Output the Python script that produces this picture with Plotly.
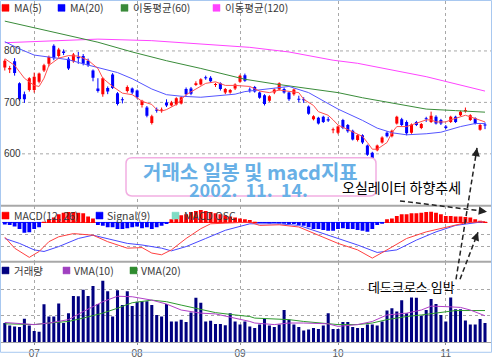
import plotly.graph_objects as go

# ---------------- data ----------------
days = list(range(99))
opens = [768,764,780,737,716,724,724,740,762,775,
         810,790,799,785,780,788,790,781,762,727,
         716,728,754,718,706,722,727,723,695,690,
         660,686,684,700,694,696,698,726,727,734,
         735,749,748,734,737,719,719,727,740,753,
         725,730,719,714,703,719,725,726,719,716,
         707,706,692,667,670,672,667,646,641,666,
         656,645,627,636,616,602,607,622,641,634,
         659,667,662,641,662,650,669,662,672,666,
         653,662,672,675,683,666,669,647,657]
highs = [784,771,786,739,721,749,758,758,775,791,
         813,806,803,788,796,798,794,785,764,747,
         749,731,757,720,710,733,729,725,705,693,
         676,690,690,706,703,710,712,729,730,741,
         747,752,751,738,739,728,726,737,754,756,
         729,732,721,716,714,727,739,729,721,727,
         713,710,694,675,672,674,672,651,655,668,
         658,647,638,638,618,604,618,634,644,647,
         674,670,665,659,664,660,672,682,675,668,
         656,674,674,684,690,677,671,658,661]
lows = [762,757,752,703,699,721,719,737,759,770,
        782,787,792,763,777,775,772,769,741,719,
        711,716,726,694,698,719,716,707,690,671,
        657,680,680,691,692,694,696,713,714,732,
        733,744,739,730,723,716,717,724,738,740,
        719,719,707,694,701,716,723,717,703,713,
        700,699,676,665,657,660,662,640,638,648,
        641,626,624,619,596,585,605,620,632,632,
        657,654,636,639,654,648,662,660,657,656,
        648,660,660,673,680,664,657,645,648]
closes = [781,767,757,706,706,747,750,756,772,788,
          786,803,796,766,793,786,775,772,748,722,
          747,721,728,697,704,730,719,710,703,674,
          673,684,686,694,700,708,710,716,717,737,
          745,747,741,736,726,726,724,735,752,742,
          723,721,709,697,712,725,737,719,706,725,
          705,704,678,673,659,662,665,648,653,650,
          644,628,636,622,598,588,616,632,634,645,
          672,656,640,657,656,658,667,674,659,659,
          650,672,662,682,685,675,659,656,655]

ma5_idx = [0,2,4,6,7,8,9,11,13,15,17,19,20,22,24,26,27,28,30,31,32,33,35,37,39,41,43,45,47,
           50,52,54,56,58,60,61,63,64,66,67,68,70,72,73,74,75,76,78,79,80,82,83,84,86,87,88,
           90,91,93,94,95,97,98]
ma5_val = [785,772,747,733,731,747,772,786,791,790,782,766,747,731,718,715,709,702,696,686,683,686,
           696,715,726,737,740,733,733,
           731,722,719,724,722,719,706,694,682,675,666,656,647,639,634,622,609,609,622,641,653,653,
           656,659,666,666,662,662,666,672,675,672,666,662]
ma20_idx = [0,3,6,9,13,16,20,23,26,30,33,36,40,43,47,49,55,58,62,65,68,73,76,79,82,86,89,93,96,98]
ma20_val = [818,804,792,788,783,775,766,758,746,726,715,712,710,712,716,721,728,731,719,703,687,
            665,650,641,637,639,642,653,659,659]
ma60_idx = [0,6,13,19,26,33,40,49,55,61,68,73,80,86,92,98]
ma60_val = [858,845,830,817,798,781,766,745,736,728,719,709,697,687,684,681]
ma120_idx = [0,9,19,30,40,50,58,67,72,86,98]
ma120_val = [816,820,823,820,813,807,798,782,776,750,722]

volume = [7.3,6.3,6.0,5.8,8.9,6.3,4.2,3.9,14.5,9.8,
          9.8,14.8,7.3,11.1,17.7,17.6,20.1,17.7,21.5,14.6,
          23.6,19.5,9.8,19.9,14.2,19.5,13.8,15.5,15.7,15.7,
          14.2,10.4,9.8,14.6,7.9,7.9,8.6,7.7,11.3,17.0,
          15.1,7.9,8.2,6.9,6.9,6.4,11.1,7.9,6.7,7.9,
          6.0,5.4,6.7,8.8,6.3,5.8,6.7,12.3,8.6,6.7,
          5.8,4.4,4.8,5.4,5.0,6.3,11.1,5.0,5.0,7.7,
          7.7,5.8,5.4,5.4,6.7,6.7,6.3,7.9,12.1,13.0,
          11.7,16.1,11.1,17.1,17.0,10.1,12.3,16.5,14.6,10.4,
          7.9,17.1,12.6,12.6,8.3,6.7,6.7,8.8,7.3]
vma10_idx = [0,3,6,9,13,16,20,23,26,30,33,36,40,43,47,50,51,55,58,61,66,68,72,75,78,82,85,87,90,93,95,98]
vma10_val = [7.5,7.0,6.7,7.3,8.6,11.7,15.5,17.6,17.4,16.1,14.6,12.3,11.1,10.8,9.2,7.9,7.3,6.7,7.3,
             7.3,7.0,6.0,6.7,7.9,10.4,11.1,12.3,13.8,13.6,13.3,12.3,10.1]
vma20_idx = [0,3,6,9,13,16,20,23,26,30,33,36,40,43,47,50,51,55,58,61,65,68,72,75,78,82,85,88,92,95,98]
vma20_val = [7.0,6.9,6.7,7.3,7.9,9.2,11.1,13.0,15.1,16.1,15.5,14.2,12.6,11.3,10.4,9.8,9.2,8.8,8.6,
             7.9,7.3,6.7,6.7,7.3,8.6,9.8,10.4,11.1,12.1,12.1,12.1]

osc = [-1.6,-2.1,-3.2,-5.3,-8.5,-8.0,-5.3,-4.0,0.5,2.7,
       4.0,6.7,8.0,8.5,8.5,8.0,7.5,4.8,3.2,-2.1,
       -2.7,-4.0,-4.0,-5.3,-5.3,-4.8,-4.0,-3.2,-4.8,-4.0,
       -5.3,-4.0,-2.7,-1.3,2.7,4.8,5.9,6.7,8.5,9.3,
       10.1,9.3,8.5,7.5,6.7,5.9,4.8,4.0,3.2,2.7,
       2.1,0.5,-0.5,-0.5,-0.8,-0.5,-0.8,-1.0,-1.3,-1.3,
       -2.1,-2.7,-4.0,-5.3,-5.3,-6.1,-6.7,-6.7,-5.3,-4.8,
       -5.3,-5.3,-6.1,-6.7,-7.5,-5.3,-2.1,-1.0,2.7,3.2,
       5.3,6.7,6.7,7.5,7.5,8.0,8.5,8.8,8.0,6.7,
       5.3,5.3,4.8,4.8,4.5,4.0,2.7,1.3,0.5]
macd_idx = [0,2,5,7,9,11,14,18,21,25,28,30,32,34,37,40,42,46,50,52,56,60,64,68,72,75,78,82,86,90,94,98]
macd_val = [-12,-21,-28.5,-23.7,-15.7,-11.7,-9.1,-10.4,-15.7,-21,-20.5,-25,-26.4,-22.4,-13.1,-5.1,
            -1.1,-0.3,0.3,-2.4,-1.9,-3.7,-10.4,-17.1,-22.4,-29.1,-22.4,-13.1,-7.7,-3.7,-0.3,0.8]
signal_idx = [0,3,6,8,11,15,18,21,25,28,32,34,37,41,45,50,52,56,60,64,68,72,76,80,84,88,92,98]
signal_val = [-13.1,-17.1,-22.4,-23.7,-19.7,-13.1,-10.4,-13.1,-17.1,-18.4,-21,-23.2,-19.7,-13.1,-6.4,
              -1.1,-1.1,-1.1,-2.4,-7.7,-13.1,-18.4,-24.5,-22.4,-14.4,-7.7,-2.4,0.8]

month_ticks = [6, 27, 48, 68, 90]
month_labels = ["07", "08", "09", "10", "11"]
price_ticks = [600, 700, 800]
macd_grid = [-10, -20]
vol_grid = [10, 20]

# ---------------- geometry helpers (pixels -> paper) ----------------
W, H = 493, 360
L, R, T, B = 1, 2, 1, 11
PW, PH = W - L - R, H - T - B
def px(x):
    return (x - L) / PW
def py(y):
    return (H - B - y) / PH

RED, BLUE = "#ff0000", "#0000ff"
KFONT = "Noto Sans CJK KR"
GRID = "#a8a8a8"

fig = go.Figure()

# ---------------- price panel ----------------
ccol = [RED if c >= o else BLUE for o, c in zip(opens, closes)]
for col in (RED, BLUE):
    wx, wy = [], []
    for d, h, l, c in zip(days, highs, lows, ccol):
        if c == col:
            wx += [d, d, None]
            wy += [l, h, None]
    fig.add_trace(go.Scatter(x=wx, y=wy, mode="lines", line=dict(color=col, width=1),
                             xaxis="x", yaxis="y", hoverinfo="skip"))
fig.add_trace(go.Bar(x=days, base=[min(o, c) for o, c in zip(opens, closes)],
                     y=[max(abs(c - o), 1.8) for o, c in zip(opens, closes)],
                     width=0.62, marker=dict(color=ccol, line=dict(width=0)),
                     xaxis="x", yaxis="y"))
for ix, iv, col in ((ma120_idx, ma120_val, "#ff44ff"), (ma60_idx, ma60_val, "#3a8c3a"),
                    (ma20_idx, ma20_val, "#5555ff"), (ma5_idx, ma5_val, "#ff5050")):
    fig.add_trace(go.Scatter(x=ix, y=iv, mode="lines", line=dict(color=col, width=1),
                             xaxis="x", yaxis="y"))

# ---------------- MACD panel ----------------
ocol = [RED if v > 0 else BLUE for v in osc]
fig.add_trace(go.Bar(x=days, y=osc, width=0.78, marker=dict(color=ocol, line=dict(width=0)),
                     xaxis="x2", yaxis="y2"))
for col, sgn in ((BLUE, -1), (RED, 1)):
    zx, zy = [], []
    for d, v in zip(days, osc):
        if v * sgn > 0:
            zx += [d - 0.5, d + 0.5, None]
            zy += [0, 0, None]
    fig.add_trace(go.Scatter(x=zx, y=zy, mode="lines", line=dict(color=col, width=1),
                             xaxis="x2", yaxis="y2"))
fig.add_trace(go.Scatter(x=signal_idx, y=signal_val, mode="lines", line=dict(color="#4848ff", width=1),
                         xaxis="x2", yaxis="y2"))
fig.add_trace(go.Scatter(x=macd_idx, y=macd_val, mode="lines", line=dict(color="#ff4040", width=1),
                         xaxis="x2", yaxis="y2"))

# ---------------- volume panel ----------------
fig.add_trace(go.Bar(x=days, y=volume, width=0.62, marker=dict(color="#000080", line=dict(width=0)),
                     xaxis="x3", yaxis="y3"))
fig.add_trace(go.Scatter(x=vma20_idx, y=vma20_val, mode="lines", line=dict(color="#2e9a2e", width=1),
                         xaxis="x3", yaxis="y3"))
fig.add_trace(go.Scatter(x=vma10_idx, y=vma10_val, mode="lines", line=dict(color="#b040c8", width=1),
                         xaxis="x3", yaxis="y3"))

# ---------------- axes ----------------
xr = [(L - 4.8) / 4.9, (W - R - 4.8) / 4.9]
xcommon = dict(range=xr, tickvals=month_ticks, ticktext=month_labels, showgrid=True,
               gridcolor=GRID, griddash="3px,3px", gridwidth=1, zeroline=False, domain=[0, 1])
d_price = [py(210), 1]
d_macd = [py(267), py(210)]
d_vol = [0, py(267)]
fig.update_layout(
    width=W, height=H, margin=dict(l=L, r=R, t=T, b=B),
    paper_bgcolor="white", plot_bgcolor="white", showlegend=False, barmode="overlay",
    xaxis=dict(**xcommon, anchor="y", showticklabels=False, ticks=""),
    xaxis2=dict(**xcommon, anchor="y2", matches="x", showticklabels=False, ticks=""),
    xaxis3=dict(**xcommon, anchor="y3", matches="x", showticklabels=True, ticks="outside",
                ticklen=2, tickcolor="#909090", showline=True, linecolor="#a0a0a0",
                tickfont=dict(family="Liberation Sans", size=10, color="#555555")),
    yaxis=dict(domain=d_price, range=[499, 897.1], tickvals=price_ticks, showgrid=False,
               zeroline=False, ticklabelposition="inside", ticks="",
               tickfont=dict(family="Liberation Sans", size=10, color="#333333"), anchor="x"),
    yaxis2=dict(domain=d_macd, range=[-32, 13.6], tickvals=macd_grid, showticklabels=False,
                showgrid=True, gridcolor=GRID, griddash="3px,3px", zeroline=False, anchor="x2"),
    yaxis3=dict(domain=d_vol, range=[0, 30.9], tickvals=vol_grid, showticklabels=False,
                showgrid=True, gridcolor=GRID, griddash="3px,3px", zeroline=False, anchor="x3"),
)

shapes = []
annos = []
# price gridlines starting after the tick label
for t in price_ticks:
    shapes.append(dict(type="line", xref="paper", yref="y", x0=px(22), x1=1, y0=t, y1=t,
                       line=dict(color=GRID, width=1, dash="3px,3px"), layer="below"))
# panel separators
for yy in (210, 267):
    shapes.append(dict(type="line", xref="paper", yref="paper", x0=px(0), x1=px(491),
                       y0=py(yy), y1=py(yy), line=dict(color="#a8a8a8", width=2)))
# outer frame
shapes.append(dict(type="rect", xref="paper", yref="paper", x0=px(0.5), x1=px(491.5),
                   y0=py(359.5), y1=py(0.5), line=dict(color="#a8c8f0", width=1)))

# legends
def legend_row(items, ycen):
    for sq_x, col, txt, tx in items:
        shapes.append(dict(type="rect", xref="paper", yref="paper", x0=px(sq_x), x1=px(sq_x + 7),
                           y0=py(ycen + 3.5), y1=py(ycen - 3.5), fillcolor=col,
                           line=dict(color=col, width=0.5)))
        annos.append(dict(xref="paper", yref="paper", x=px(tx), y=py(ycen), text=txt,
                          showarrow=False, xanchor="left", yanchor="middle",
                          font=dict(family=KFONT, size=10.5, color="#3a3a3a")))

legend_row([(2, "#ff0000", "MA(5)", 12), (58, "#0000ff", "MA(20)", 68),
            (121, "#3a8a3a", "이동평균(60)", 131), (213, "#ff44ff", "이동평균(120)", 223)], 8)
legend_row([(2, "#ff0000", "MACD(12, 26)", 12), (96, "#0000ff", "Signal(9)", 105),
            (172, "#7fdcc4", "MACD OSC", 182)], 220)
legend_row([(2, "#000080", "거래량", 12), (63, "#a040c0", "VMA(10)", 72),
            (130, "#2e8b2e", "VMA(20)", 139)], 276)

# title box (rounded)
bx0, bx1, by0, by1 = px(126), px(376), py(200), py(161)
rx, ry = 6 / PW, 6 / PH
path = (f"M {bx0+rx},{by1} L {bx1-rx},{by1} Q {bx1},{by1} {bx1},{by1-ry} "
        f"L {bx1},{by0+ry} Q {bx1},{by0} {bx1-rx},{by0} L {bx0+rx},{by0} "
        f"Q {bx0},{by0} {bx0},{by0+ry} L {bx0},{by1-ry} Q {bx0},{by1} {bx0+rx},{by1} Z")
shapes.append(dict(type="path", xref="paper", yref="paper", path=path, fillcolor="white",
                   line=dict(color="#f2aee2", width=1.5)))
annos.append(dict(xref="paper", yref="paper", x=px(250), y=py(175), text="<b>거래소 일봉 및 macd지표</b>",
                  showarrow=False, xanchor="center", yanchor="middle",
                  font=dict(family=KFONT, size=20, color="#68b0e6")))
annos.append(dict(xref="paper", yref="paper", x=px(248), y=py(193), text="<b>2002.  11.  14.</b>",
                  showarrow=False, xanchor="center", yanchor="middle",
                  font=dict(family=KFONT, size=18, color="#68b0e6")))
annos.append(dict(xref="paper", yref="paper", x=px(401), y=py(191), text="오실레이터 하향추세",
                  showarrow=False, xanchor="center", yanchor="middle",
                  font=dict(family=KFONT, size=14, color="#000000")))
annos.append(dict(xref="paper", yref="paper", x=px(411), y=py(292), text="데드크로스 임박",
                  showarrow=False, xanchor="center", yanchor="middle",
                  font=dict(family=KFONT, size=13, color="#000000")))

# dashed arrows
arrows = [((400, 205), (487, 216)), ((456, 285), (477, 151)), ((460, 285), (478, 237))]
for (x0, y0), (x1, y1) in arrows:
    shapes.append(dict(type="line", xref="paper", yref="paper", x0=px(x0), y0=py(y0),
                       x1=px(x1), y1=py(y1), line=dict(color="#222222", width=1.5, dash="5px,3px")))
    dx, dy = x1 - x0, y1 - y0
    n = (dx * dx + dy * dy) ** 0.5
    annos.append(dict(xref="paper", yref="paper", x=px(x1), y=py(y1), ax=-dx / n * 9, ay=-dy / n * 9,
                      text="", showarrow=True, arrowhead=2, arrowsize=1.1, arrowwidth=1.5,
                      arrowcolor="#222222"))

fig.update_layout(shapes=shapes, annotations=annos)
fig.write_html("out.html", config={"displayModeBar": False, "staticPlot": True},
               post_script="document.body.style.margin='0px';document.body.style.padding='0px';"
                           "document.body.style.overflow='hidden';")
